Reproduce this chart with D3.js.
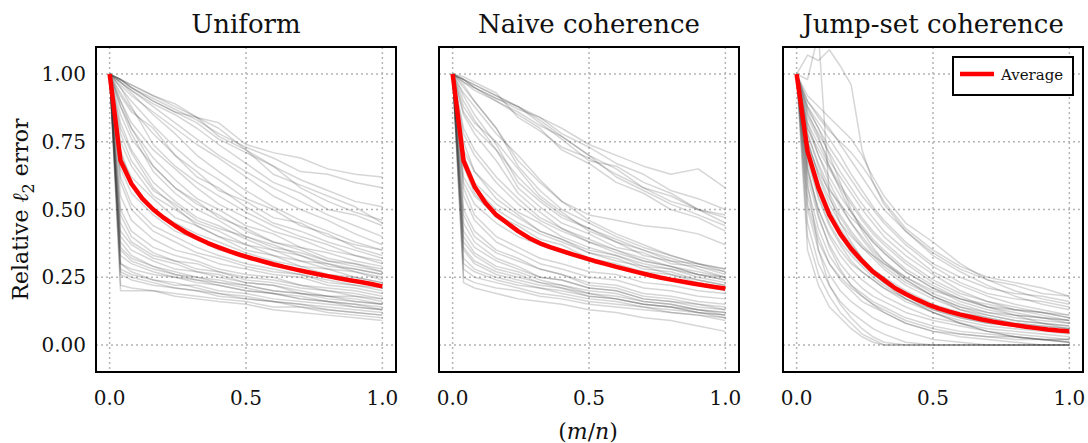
<!DOCTYPE html>
<html>
  <head>
    <meta charset="utf-8">
    <title>Relative error</title>
    <script src="https://cdn.jsdelivr.net/npm/d3@7/dist/d3.min.js"></script>
    <style>
      body { margin: 0; background: #fff; }
      svg { display: block; font-family: "DejaVu Serif", serif; }
      .grid line { stroke: #b4b4b4; stroke-width: 1.5; stroke-dasharray: 2 3; }
      .run { fill: none; stroke: #333; stroke-opacity: .2; stroke-width: 1.5; stroke-linejoin: round; }
      .avg { fill: none; stroke: #ff0000; stroke-width: 4.5; stroke-linejoin: round; }
      .frame { fill: none; stroke: #000; stroke-width: 2; }
      .tick { font-size: 20px; fill: #111; }
    </style>
  </head>

  <body>
    <svg id="chart" width="1088" height="443"></svg>

    <script>
      // data
      panelTitles = ["Uniform", "Naive coherence", "Jump-set coherence"];
      xTicks = [0, 0.5, 1];
      yTicks = [0, 0.25, 0.5, 0.75, 1];

      // sample points of the gray runs
      runX = [0, .04, .08, .16, .24, .32, .4, .5, .6, .7, .8, .9, 1];
      jumpRunX = [0, .04, .08, .12, .16, .2, .24, .28, .32, .4, .5, .6, .7, .8, .9, 1];
      avgX = [0, .04, .08, .12, .16, .2, .24, .28, .32, .36, .4, .44, .48, .52, .56, .6, .64, .68, .72, .76, .8, .84, .88, .92, .96, 1];

      uniformRuns = [
        [1, .98, .96, .92, .88, .84, .82, .74, .71, .69, .65, .63, .62],
        [1, .98, .95, .91, .87, .83, .78, .73, .69, .64, .63, .60, .58],
        [1, .98, .95, .90, .86, .82, .76, .71, .66, .61, .57, .53, .51],
        [1, .98, .96, .92, .89, .84, .77, .72, .63, .59, .55, .51, .45],
        [1, .97, .94, .89, .85, .80, .74, .67, .60, .56, .50, .48, .44],
        [1, .98, .95, .90, .86, .84, .80, .72, .66, .58, .53, .49, .46],
        [1, .93, .87, .78, .70, .64, .57, .53, .47, .45, .40, .37, .35],
        [1, .95, .90, .81, .73, .66, .61, .54, .50, .44, .41, .36, .33],
        [1, .90, .82, .72, .65, .58, .52, .47, .42, .39, .35, .33, .30],
        [1, .88, .80, .69, .61, .54, .50, .44, .41, .36, .34, .31, .29],
        [1, .85, .76, .66, .58, .53, .47, .43, .38, .36, .32, .30, .28],
        [1, .75, .66, .55, .50, .45, .42, .37, .35, .31, .30, .27, .25],
        [1, .70, .62, .54, .47, .44, .40, .37, .33, .31, .28, .27, .24],
        [1, .80, .71, .58, .51, .44, .40, .35, .33, .29, .28, .25, .23],
        [1, .65, .56, .48, .42, .39, .35, .33, .29, .28, .25, .24, .21],
        [1, .45, .38, .33, .31, .28, .27, .24, .23, .21, .20, .18, .17],
        [1, .40, .35, .31, .28, .27, .25, .23, .22, .20, .18, .18, .16],
        [1, .35, .31, .28, .26, .25, .23, .22, .20, .19, .17, .16, .15],
        [1, .30, .28, .26, .25, .23, .22, .20, .19, .17, .16, .15, .14],
        [1, .28, .26, .24, .22, .22, .20, .19, .17, .16, .15, .14, .13],
        [1, .26, .24, .22, .21, .20, .18, .17, .16, .15, .14, .13, .12],
        [1, .22, .21, .20, .19, .18, .17, .16, .14, .14, .12, .11, .10],
        [1, .20, .20, .20, .18, .17, .16, .15, .13, .12, .11, .10, .09],
        [1, .50, .42, .36, .33, .31, .28, .26, .25, .22, .21, .20, .18],
        [1, .55, .46, .39, .35, .33, .30, .28, .26, .25, .22, .21, .19],
        [1, .38, .33, .29, .27, .25, .24, .22, .20, .19, .18, .16, .15],
        [1, .33, .30, .27, .25, .24, .22, .20, .19, .18, .16, .15, .13],
        [1, .60, .50, .42, .38, .34, .32, .29, .27, .26, .23, .22, .20],
        [1, .48, .40, .34, .31, .30, .27, .25, .24, .22, .20, .19, .17],
        [1, .42, .37, .32, .30, .27, .26, .23, .22, .19, .18, .17, .15],
        [1, .92, .86, .80, .70, .62, .58, .51, .45, .42, .38, .35, .32],
        [1, .30, .27, .24, .23, .21, .19, .18, .16, .15, .13, .12, .11],
        [1, .90, .80, .66, .58, .52, .48, .42, .38, .35, .31, .30, .27],
        [1, .95, .88, .74, .66, .60, .55, .49, .44, .40, .37, .33, .31],
        [1, .82, .72, .60, .53, .47, .44, .39, .35, .33, .29, .28, .26],
        [1, .97, .93, .85, .78, .70, .64, .57, .51, .46, .42, .38, .35],
        [1, .96, .92, .86, .80, .74, .69, .62, .55, .50, .46, .41, .37],
        [1, .78, .68, .57, .52, .46, .43, .40, .36, .34, .31, .29, .27],
        [1, .72, .60, .50, .45, .41, .38, .34, .31, .29, .26, .25, .23],
        [1, .88, .78, .64, .56, .50, .46, .40, .37, .33, .30, .28, .26],
        [1, .97, .94, .88, .82, .76, .70, .64, .58, .53, .48, .44, .40],
        [1, .62, .52, .44, .40, .36, .33, .30, .28, .26, .24, .22, .21],
        [1, .36, .32, .29, .26, .24, .23, .21, .19, .17, .16, .14, .13],
        [1, .27, .25, .23, .21, .20, .19, .17, .16, .14, .13, .12, .11]
      ];

      naiveRuns = [
        [1, .98, .96, .92, .88, .84, .80, .74, .70, .66, .63, .65, .58],
        [1, .98, .95, .91, .87, .84, .78, .73, .67, .63, .57, .54, .50],
        [1, .97, .95, .90, .86, .81, .77, .70, .65, .58, .55, .50, .47],
        [1, .98, .96, .92, .88, .83, .77, .70, .62, .57, .52, .48, .44],
        [1, .97, .94, .90, .85, .80, .72, .67, .60, .56, .50, .47, .42],
        [1, .98, .95, .91, .88, .82, .76, .68, .66, .60, .56, .50, .48],
        [1, .99, .97, .93, .84, .79, .73, .69, .63, .58, .53, .50, .45],
        [1, .92, .85, .74, .60, .53, .47, .43, .38, .35, .31, .30, .27],
        [1, .90, .83, .72, .58, .51, .45, .41, .36, .34, .30, .29, .26],
        [1, .88, .82, .75, .65, .55, .49, .42, .38, .33, .31, .28, .25],
        [1, .85, .78, .68, .56, .49, .43, .39, .35, .32, .29, .27, .25],
        [1, .80, .72, .62, .54, .47, .43, .38, .35, .31, .29, .26, .24],
        [1, .70, .60, .52, .47, .42, .39, .34, .32, .28, .27, .24, .22],
        [1, .62, .55, .48, .44, .39, .37, .32, .30, .27, .26, .23, .21],
        [1, .75, .64, .54, .48, .42, .39, .35, .33, .29, .28, .26, .24],
        [1, .50, .42, .35, .32, .28, .26, .22, .21, .18, .17, .15, .14],
        [1, .45, .38, .32, .29, .25, .24, .21, .20, .17, .16, .14, .13],
        [1, .40, .34, .29, .27, .24, .22, .20, .19, .16, .15, .13, .12],
        [1, .35, .30, .26, .24, .22, .21, .18, .17, .15, .14, .13, .11],
        [1, .30, .27, .24, .22, .21, .19, .17, .16, .14, .13, .12, .10],
        [1, .25, .23, .21, .20, .18, .17, .15, .14, .13, .12, .11, .09],
        [1, .23, .21, .19, .17, .16, .15, .13, .12, .10, .09, .07, .05],
        [1, .55, .46, .38, .34, .30, .28, .25, .24, .21, .20, .18, .17],
        [1, .38, .33, .28, .26, .23, .22, .19, .18, .16, .15, .13, .12],
        [1, .32, .28, .25, .23, .21, .20, .18, .17, .15, .14, .12, .11],
        [1, .58, .48, .40, .36, .32, .30, .27, .26, .23, .22, .20, .19],
        [1, .42, .36, .31, .28, .25, .24, .21, .20, .17, .16, .15, .13],
        [1, .28, .25, .23, .21, .19, .18, .16, .15, .14, .12, .11, .10],
        [1, .66, .56, .47, .42, .38, .35, .31, .29, .26, .24, .22, .20],
        [1, .48, .40, .34, .31, .28, .26, .23, .22, .19, .18, .16, .15],
        [1, .95, .90, .80, .66, .57, .50, .45, .40, .36, .33, .30, .28],
        [1, .86, .80, .72, .62, .54, .48, .43, .39, .35, .32, .29, .27],
        [1, .78, .70, .60, .52, .46, .42, .38, .34, .31, .29, .26, .25],
        [1, .72, .64, .56, .49, .45, .40, .36, .33, .30, .28, .25, .23],
        [1, .93, .88, .78, .70, .61, .53, .46, .41, .37, .33, .30, .28],
        [1, .68, .58, .50, .45, .41, .38, .34, .31, .29, .26, .24, .22],
        [1, .96, .90, .80, .68, .60, .53, .48, .46, .44, .43, .41, .37],
        [1, .60, .52, .45, .40, .37, .34, .31, .29, .26, .24, .22, .21],
        [1, .36, .31, .27, .25, .23, .21, .19, .17, .15, .14, .12, .11]
      ];

      jumpRuns = [
        [1, 1.07, 1.05, 1.09, 1.03, .96, .72, .60, .52, .42, .33, .27, .22, .18, .15, .13],
        [1, .98, 1.15, .55, .45, .38, .32, .27, .23, .17, .12, .08, .05, .03, .02, .02],
        [1, .92, .88, .84, .80, .76, .70, .62, .55, .45, .38, .30, .24, .20, .17, .15],
        [1, .90, .85, .80, .74, .68, .62, .56, .50, .42, .34, .28, .24, .22, .19, .18],
        [1, .88, .82, .76, .70, .63, .57, .51, .46, .38, .30, .25, .21, .19, .18, .16],
        [1, .85, .78, .71, .64, .58, .52, .47, .42, .35, .27, .22, .18, .15, .13, .11],
        [1, .82, .74, .66, .59, .53, .47, .42, .38, .31, .24, .19, .16, .14, .12, .10],
        [1, .80, .70, .62, .55, .49, .44, .39, .35, .28, .22, .17, .14, .12, .10, .09],
        [1, .78, .67, .58, .51, .45, .40, .35, .31, .25, .19, .15, .12, .10, .09, .08],
        [1, .75, .63, .54, .47, .41, .36, .32, .28, .22, .17, .13, .11, .09, .08, .07],
        [1, .72, .60, .50, .43, .37, .32, .28, .25, .20, .15, .12, .10, .08, .07, .06],
        [1, .70, .57, .47, .40, .34, .30, .26, .23, .18, .13, .10, .08, .07, .06, .05],
        [1, .68, .54, .44, .37, .31, .27, .24, .21, .16, .12, .09, .07, .06, .05, .04],
        [1, .65, .50, .40, .33, .28, .24, .21, .18, .14, .10, .08, .06, .05, .04, .03],
        [1, .62, .47, .37, .30, .25, .21, .18, .16, .12, .09, .07, .05, .04, .03, .02],
        [1, .58, .43, .33, .27, .22, .19, .16, .14, .10, .07, .05, .04, .03, .02, .01],
        [1, .55, .40, .30, .24, .20, .16, .14, .12, .08, .05, .03, .02, .01, 0, 0],
        [1, .50, .35, .26, .20, .16, .13, .10, .08, .05, .02, .01, 0, 0, 0, 0],
        [1, .45, .30, .22, .16, .12, .09, .06, .04, .01, 0, 0, 0, 0, 0, 0],
        [1, .40, .26, .18, .12, .08, .04, .02, 0, 0, 0, 0, 0, 0, 0, 0],
        [1, .60, .35, .22, .15, .10, .06, .03, .01, 0, 0, 0, 0, 0, 0, 0],
        [1, .87, .80, .70, .60, .50, .42, .36, .31, .24, .18, .14, .11, .09, .08, .07],
        [1, .84, .76, .68, .62, .56, .50, .45, .40, .33, .26, .20, .16, .13, .11, .09],
        [1, .76, .62, .52, .45, .40, .36, .33, .30, .25, .20, .17, .15, .13, .12, .11],
        [1, .80, .72, .65, .58, .52, .46, .41, .37, .30, .23, .18, .14, .11, .08, .06],
        [1, .70, .55, .45, .38, .33, .29, .25, .22, .17, .12, .08, .05, .03, .02, .01],
        [1, .66, .48, .36, .28, .22, .18, .15, .12, .08, .05, .04, .03, .03, .02, .02],
        [1, .90, .84, .79, .75, .71, .66, .60, .53, .43, .35, .29, .25, .23, .21, .18],
        [1, .35, .22, .14, .10, .06, .03, .01, 0, 0, 0, 0, 0, 0, 0, 0],
        [1, .74, .64, .57, .52, .47, .43, .38, .34, .27, .21, .17, .14, .13, .12, .10],
        [1, .86, .77, .66, .57, .49, .43, .38, .34, .27, .21, .16, .13, .11, .10, .08],
        [1, .78, .66, .56, .48, .42, .37, .33, .29, .23, .18, .14, .12, .11, .10, .09],
        [1, .64, .50, .41, .35, .30, .27, .24, .21, .17, .13, .10, .08, .07, .06, .05],
        [1, .82, .70, .60, .52, .45, .39, .34, .30, .24, .18, .13, .10, .08, .07, .06],
        [1, .52, .38, .30, .25, .21, .18, .15, .13, .09, .06, .04, .03, .02, .02, .01],
        [1, .88, .80, .73, .67, .61, .55, .50, .45, .37, .29, .23, .19, .17, .16, .14]
      ];

      uniformAvg = [1, .68, .595, .54, .50, .468, .44, .415, .395, .376, .36, .345, .332, .32, .309, .298, .288, .279, .27, .262, .254, .246, .239, .232, .225, .216];
      naiveAvg = [1, .68, .585, .525, .48, .45, .42, .395, .375, .36, .347, .334, .322, .31, .299, .288, .278, .268, .258, .249, .241, .234, .227, .22, .214, .208];
      jumpAvg = [1, .715, .58, .48, .41, .355, .31, .27, .24, .21, .188, .168, .15, .135, .123, .112, .103, .094, .086, .079, .073, .067, .062, .057, .053, .05];

      panels = [
        { runs: uniformRuns, runX: runX, avg: uniformAvg },
        { runs: naiveRuns, runX: runX, avg: naiveAvg },
        { runs: jumpRuns, runX: jumpRunX, avg: jumpAvg }
      ];

      // layout
      svg = d3.select("#chart");
      panelLeft = [96, 439, 783];
      panelTop = 47;
      panelWidth = 300;
      panelHeight = 325;

      x = d3.scaleLinear()
        .domain([-0.05, 1.05])
        .range([0, panelWidth]);
      y = d3.scaleLinear()
        .domain([-0.1, 1.1])
        .range([panelHeight, 0]);

      panels.forEach(function(p, i) {
        g = svg.append("g")
          .attr("transform", "translate(" + panelLeft[i] + "," + panelTop + ")");

        g.append("clipPath")
            .attr("id", "clip" + i)
          .append("rect")
            .attr("width", panelWidth)
            .attr("height", panelHeight);

        // dotted grid
        grid = g.append("g").attr("class", "grid");
        grid.selectAll(".gx")
            .data(xTicks)
          .enter().append("line")
            .attr("x1", x).attr("x2", x)
            .attr("y1", 0).attr("y2", panelHeight);
        grid.selectAll(".gy")
            .data(yTicks)
          .enter().append("line")
            .attr("x1", 0).attr("x2", panelWidth)
            .attr("y1", y).attr("y2", y);

        line = d3.line()
          .x(function(d, j) { return x(p.runX[j]); })
          .y(function(d) { return y(d); });

        plot = g.append("g")
          .attr("clip-path", "url(#clip" + i + ")");
        plot.selectAll(".run")
            .data(p.runs)
          .enter().append("path")
            .attr("class", "run")
            .attr("d", line);

        avgLine = d3.line()
          .x(function(d, j) { return x(avgX[j]); })
          .y(function(d) { return y(d); });
        plot.append("path")
          .attr("class", "avg")
          .attr("d", avgLine(p.avg));

        g.append("rect")
          .attr("class", "frame")
          .attr("width", panelWidth)
          .attr("height", panelHeight);

        // x tick labels
        g.selectAll(".xt")
            .data(xTicks)
          .enter().append("text")
            .attr("class", "tick")
            .attr("x", x)
            .attr("y", panelHeight + 33)
            .attr("text-anchor", "middle")
            .text(d3.format(".1f"));

        if (i == 0) {
          g.selectAll(".yt")
              .data(yTicks)
            .enter().append("text")
              .attr("class", "tick")
              .attr("x", -10)
              .attr("y", y)
              .attr("dy", "0.35em")
              .attr("text-anchor", "end")
              .text(d3.format(".2f"));
        }

        g.append("text")
          .attr("x", panelWidth / 2)
          .attr("y", -14)
          .attr("text-anchor", "middle")
          .style("font-size", "26px")
          .style("fill", "#111")
          .text(panelTitles[i]);
      });

      // axis labels
      yLabel = svg.append("text")
        .attr("transform", "translate(28," + (panelTop + panelHeight / 2) + ") rotate(-90)")
        .attr("text-anchor", "middle")
        .style("font-size", "22px")
        .style("fill", "#111");
      yLabel.append("tspan").text("Relative ");
      yLabel.append("tspan").style("font-style", "italic").text("ℓ");
      yLabel.append("tspan").attr("dy", 6).style("font-size", "16px").text("2");
      yLabel.append("tspan").attr("dy", -6).text(" error");

      xLabel = svg.append("text")
        .attr("x", 588)
        .attr("y", 439)
        .attr("text-anchor", "middle")
        .style("font-size", "22px")
        .style("fill", "#111");
      xLabel.append("tspan").text("(");
      xLabel.append("tspan").style("font-style", "italic").text("m");
      xLabel.append("tspan").text("/");
      xLabel.append("tspan").style("font-style", "italic").text("n");
      xLabel.append("tspan").text(")");

      // legend
      legend = svg.append("g")
        .attr("transform", "translate(953,57)");
      legend.append("rect")
        .attr("width", 120)
        .attr("height", 38)
        .style("fill", "#fff")
        .style("stroke", "#000")
        .style("stroke-width", 2);
      legend.append("line")
        .attr("x1", 7).attr("x2", 41)
        .attr("y1", 17).attr("y2", 17)
        .style("stroke", "#ff0000")
        .style("stroke-width", 4.5);
      legend.append("text")
        .attr("x", 48)
        .attr("y", 23)
        .style("font-size", "15px")
        .style("fill", "#111")
        .text("Average");
    </script>
  </body>
</html>
